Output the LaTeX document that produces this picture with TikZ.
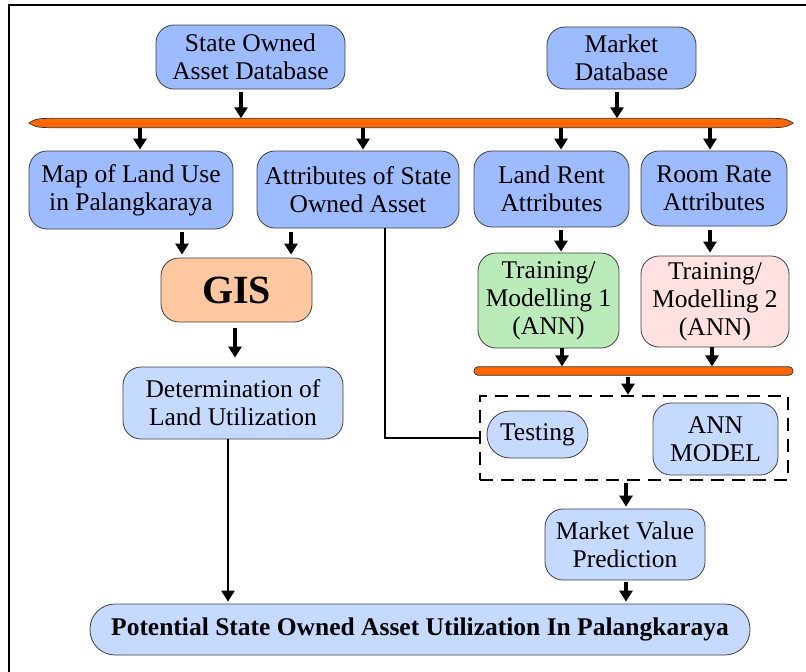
\documentclass[tikz,border=0pt]{standalone}
\usepackage{fontspec}
\setmainfont{Liberation Serif}
\usetikzlibrary{arrows.meta}

\definecolor{darkblue}{RGB}{157,187,255}
\definecolor{lightblue}{RGB}{198,217,255}
\definecolor{barorange}{RGB}{255,102,0}
\definecolor{gispeach}{RGB}{255,200,160}
\definecolor{annGreen}{RGB}{186,236,186}
\definecolor{annPink}{RGB}{255,225,225}

\tikzset{
    box/.style={draw=black!75, line width=0.8pt, rounded corners=18pt, align=center,
        inner sep=0pt, font=\fontsize{25.5}{28}\selectfont},
    darkbox/.style={box, fill=darkblue},
    lightbox/.style={box, fill=lightblue},
    arr/.style={line width=3.4pt, -{Triangle[length=11pt,width=13pt]}},
}

\begin{document}
\begin{tikzpicture}[x=1pt,y=-1pt]
    \useasboundingbox (0,0) rectangle (806,672);
    \draw[line width=2pt] (9.3,700) -- (9.3,5) -- (830,5);

    % databases
    \node[darkbox, minimum width=189pt, minimum height=64pt] (soad) at (250.5,57) {State Owned\\Asset Database};
    \node[darkbox, minimum width=149pt, minimum height=62pt] (mkt) at (621.5,58) {Market\\Database};

    % first bar
    \node[minimum width=764pt, minimum height=9pt, inner sep=0pt] (bar1) at (411,123) {};
    \draw[fill=barorange, draw=black!80, line width=0.7pt]
        (bar1.west) .. controls ([xshift=8pt]bar1.north west) .. ([xshift=34pt]bar1.north west)
        -- ([xshift=-34pt]bar1.north east) .. controls ([xshift=-8pt]bar1.north east) .. (bar1.east)
        .. controls ([xshift=-8pt]bar1.south east) .. ([xshift=-34pt]bar1.south east)
        -- ([xshift=34pt]bar1.south west) .. controls ([xshift=8pt]bar1.south west) .. (bar1.west) -- cycle;

    % attributes
    \node[darkbox, minimum width=204pt, minimum height=78pt] (map) at (131,190) {Map of Land Use\\in Palangkaraya};
    \node[darkbox, minimum width=202pt, minimum height=77pt] (attr) at (358,189.5) {Attributes of State\\Owned Asset};
    \node[darkbox, minimum width=155pt, minimum height=76pt] (lr) at (551.5,189) {Land Rent\\Attributes};
    \node[darkbox, minimum width=146pt, minimum height=75pt] (rr) at (714,188.5) {Room Rate\\Attributes};

    % GIS branch
    \node[box, fill=gispeach, minimum width=151pt, minimum height=64pt, font=\fontsize{40}{44}\selectfont\bfseries] (gis) at (236.5,290) {GIS};
    \node[lightbox, minimum width=220pt, minimum height=72pt] (det) at (233,403) {Determination of\\Land Utilization};

    % ANN branch
    \node[box, fill=annGreen, minimum width=141pt, minimum height=95pt] (tm1) at (548.5,300.5) {Training/\\Modelling 1\\(ANN)};
    \node[box, fill=annPink, minimum width=148pt, minimum height=91pt] (tm2) at (715,301.5) {Training/\\Modelling 2\\(ANN)};
    \node[draw=black!80, fill=barorange, line width=0.7pt, rounded corners=4pt, minimum width=319pt, minimum height=8.5pt, inner sep=0pt] (bar2) at (633.5,371) {};

    \node[draw, dashed, line width=2.6pt, dash pattern=on 13pt off 8pt, minimum width=308pt, minimum height=84pt, inner sep=0pt] (annbox) at (634,438) {};
    \node[lightbox, rounded corners=23pt, minimum width=101pt, minimum height=47pt] (test) at (537.5,434.5) {Testing};
    \node[lightbox, minimum width=125pt, minimum height=72pt] (ann) at (715.5,439) {ANN\\MODEL};

    \node[lightbox, minimum width=160pt, minimum height=71pt] (mvp) at (625,544.5) {Market Value\\Prediction};
    \node[lightbox, rounded corners=25pt, minimum width=660pt, minimum height=51pt, font=\fontsize{25.5}{28}\selectfont\bfseries] (pot) at (420,629.5) {Potential State Owned Asset Utilization In Palangkaraya};

    % connectors
    \draw[arr, shorten <=3pt] ([xshift=-9.5pt]soad.south) -- ([xshift=-9.5pt]soad.south |- bar1.north);
    \draw[arr, shorten <=3pt] ([xshift=-4.5pt]mkt.south) -- ([xshift=-4.5pt]mkt.south |- bar1.north);
    \draw[arr, shorten >=1pt] ([xshift=9pt]map.north |- bar1.south) -- ([xshift=9pt]map.north);
    \draw[arr, shorten >=1pt] ([xshift=5pt]attr.north |- bar1.south) -- ([xshift=5pt]attr.north);
    \draw[arr, shorten >=1pt] ([xshift=9.5pt]lr.north |- bar1.south) -- ([xshift=9.5pt]lr.north);
    \draw[arr, shorten >=1pt] ([xshift=-4pt]rr.north |- bar1.south) -- ([xshift=-4pt]rr.north);

    \draw[arr, shorten <=3pt, shorten >=3pt] ([xshift=51pt]map.south) -- ([xshift=51pt]map.south |- gis.north);
    \draw[arr, shorten <=4pt, shorten >=3pt] ([xshift=-67pt]attr.south) -- ([xshift=-67pt]attr.south |- gis.north);
    \draw[arr, shorten <=6pt, shorten >=9pt] ([xshift=-1.5pt]gis.south) -- ([xshift=-1.5pt]gis.south |- det.north);
    \draw[arr, line width=2.6pt, shorten >=2pt] ([xshift=-5pt]det.south) -- ([xshift=-5pt]det.south |- pot.north);

    \draw[arr, shorten <=3pt, shorten >=1pt] ([xshift=9.5pt]lr.south) -- ([xshift=9.5pt]lr.south |- tm1.north);
    \draw[arr, shorten <=4pt, shorten >=3pt] ([xshift=-4pt]rr.south) -- ([xshift=-4pt]rr.south |- tm2.north);
    \draw[arr] ([xshift=13.5pt]tm1.south) -- ([xshift=13.5pt]tm1.south |- bar2.north);
    \draw[arr] ([xshift=-3pt]tm2.south) -- ([xshift=-3pt]tm2.south |- bar2.north);
    \draw[arr, shorten <=1pt] ([xshift=-5.5pt]bar2.south) -- ([xshift=-5.5pt]bar2.south |- annbox.north);
    \draw[line width=2.2pt] ([xshift=27pt]attr.south) |- (annbox.west);

    \draw[arr, shorten <=2pt, shorten >=2pt] ([xshift=-8pt]annbox.south) -- ([xshift=-8pt]annbox.south |- mvp.north);
    \draw[arr, shorten <=2pt, shorten >=2pt] ([xshift=1pt]mvp.south) -- ([xshift=1pt]mvp.south |- pot.north);

\end{tikzpicture}
\end{document}
